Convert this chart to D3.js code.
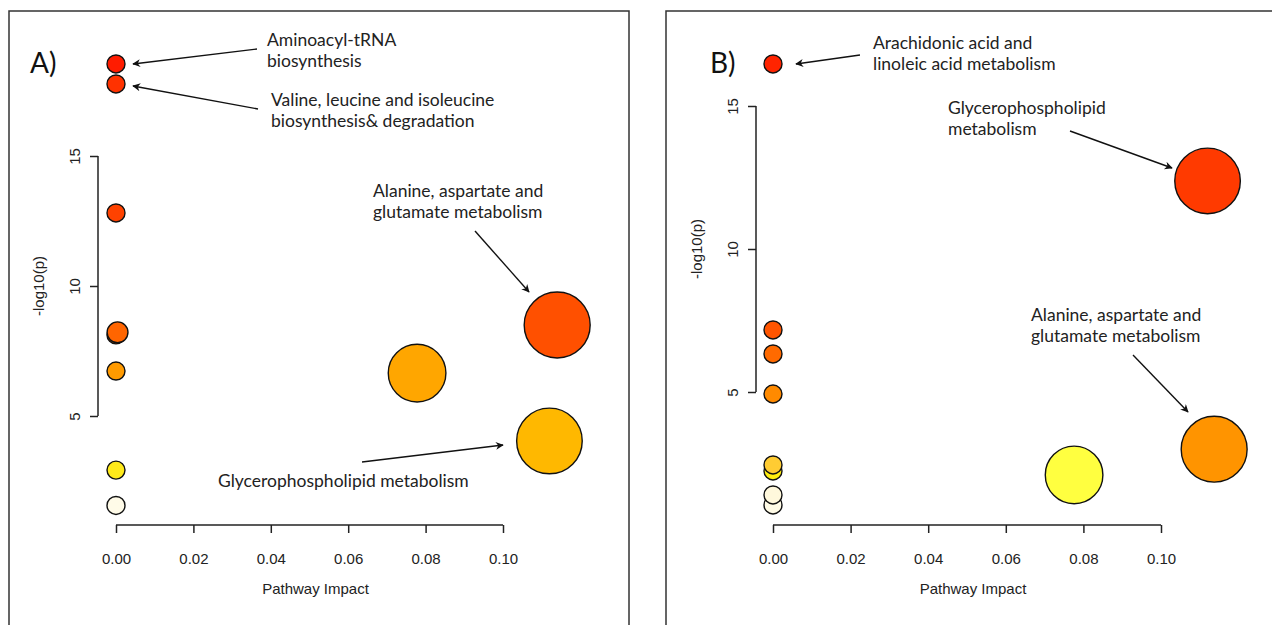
<!DOCTYPE html>
<html lang="en">
<head>
    <meta charset="UTF-8">
    <title>Pathway impact bubble charts</title>
    <script src="https://d3js.org/d3.v7.min.js"></script>
    <style>
        body { margin: 0; background: #fff; }
        svg { display: block; }
        .note { font-family: Lato, "Open Sans", sans-serif; font-size: 17.5px; fill: #222; }
        .panel-tag { font-family: Lato, "Open Sans", sans-serif; font-size: 28px; fill: #111; }
        .axis-text { font-family: "Liberation Sans", Arial, sans-serif; font-size: 15px; fill: #222; }
    </style>
</head>
<body>
<div id="chart"></div>
<script>
    const width = 1272;
    const height = 625;

    // panel A
    const impactA = [0, 0, 0, 0, 0.0004, 0, 0, 0, 0.0778, 0.114, 0.112];
    const logpA = [18.54, 17.77, 12.81, 8.12, 8.22, 6.73, 2.92, 1.56, 6.65, 8.5, 4.04];

    // panel B
    const impactB = [0, 0, 0, 0, 0, 0, 0, 0, 0.0776, 0.112, 0.1137];
    const logpB = [16.47, 7.17, 6.33, 4.93, 2.45, 2.24, 1.4, 1.05, 2.1, 12.38, 3.0];

    const xTicks = [0, 0.02, 0.04, 0.06, 0.08, 0.10];
    const yTicks = [5, 10, 15];

    const svg = d3.select("#chart").append("svg")
        .attr("width", width)
        .attr("height", height);

    svg.append("defs").append("marker")
        .attr("id", "arrow")
        .attr("viewBox", "0 0 10 10")
        .attr("refX", 9)
        .attr("refY", 5)
        .attr("markerWidth", 10)
        .attr("markerHeight", 8)
        .attr("markerUnits", "userSpaceOnUse")
        .attr("orient", "auto")
        .append("path")
        .attr("d", "M0,0 L10,5 L0,10 L3,5 Z")
        .attr("fill", "#111");

    const rScale = d3.scaleSqrt().domain([0, 0.114]).range([9, 33]);

    function drawPanel(cfg) {
        const g = svg.append("g");

        g.append("rect")
            .attr("x", cfg.frame[0])
            .attr("y", cfg.frame[1])
            .attr("width", cfg.frame[2])
            .attr("height", cfg.frame[3])
            .attr("fill", "none")
            .attr("stroke", "#333")
            .attr("stroke-width", 1.5);

        const x = d3.scaleLinear().domain([0, 0.1]).range(cfg.xRange);
        const y = d3.scaleLinear().domain([5, 15]).range(cfg.yRange);
        const color = d3.scaleLinear().domain(cfg.colorDomain).range(cfg.colorRange).clamp(true);

        // x axis
        const xAxis = g.append("g")
            .attr("transform", `translate(0,${cfg.axisY})`)
            .call(d3.axisBottom(x).tickValues(xTicks).tickFormat(d3.format(".2f")).tickSize(8).tickPadding(20));
        xAxis.select(".domain").remove();
        xAxis.append("line")
            .attr("x1", x(0)).attr("x2", x(0.1))
            .attr("stroke", "#222").attr("stroke-width", 1.5);
        xAxis.selectAll(".tick line").attr("stroke", "#222").attr("stroke-width", 1.5);
        xAxis.selectAll(".tick text").attr("class", "axis-text").attr("fill", null);

        // y axis, line only from first to last tick like base R
        const yAxis = g.append("g")
            .attr("transform", `translate(${cfg.axisX},0)`)
            .call(d3.axisLeft(y).tickValues(yTicks).tickSize(8).tickFormat(d3.format("d")));
        yAxis.select(".domain").remove();
        yAxis.append("line")
            .attr("y1", y(5)).attr("y2", y(15))
            .attr("stroke", "#222").attr("stroke-width", 1.5);
        yAxis.selectAll(".tick line").attr("stroke", "#222").attr("stroke-width", 1.5);
        yAxis.selectAll(".tick text")
            .attr("class", "axis-text")
            .attr("fill", null)
            .attr("x", 0).attr("dy", null)
            .attr("text-anchor", "middle")
            .attr("transform", "translate(-24,0) rotate(-90)")
            .attr("dominant-baseline", "central");

        g.append("text")
            .attr("class", "axis-text")
            .attr("x", (cfg.xRange[0] + cfg.xRange[1]) / 2 + 6)
            .attr("y", cfg.axisY + 69)
            .attr("text-anchor", "middle")
            .text("Pathway Impact");

        g.append("text")
            .attr("class", "axis-text")
            .attr("transform", `translate(${cfg.axisX - 54},${y(10)}) rotate(-90)`)
            .attr("text-anchor", "middle")
            .text("-log10(p)");

        const pts = cfg.impact.map((d, i) => ({ impact: d, logp: cfg.logp[i] }));
        pts.sort((a, b) => a.impact - b.impact || a.logp - b.logp);

        g.selectAll("circle.pt")
            .data(pts)
            .join("circle")
            .attr("class", "pt")
            .attr("cx", d => x(d.impact))
            .attr("cy", d => y(d.logp))
            .attr("r", d => rScale(d.impact))
            .attr("fill", d => color(d.logp))
            .attr("stroke", "#111")
            .attr("stroke-width", 1.4);

        g.append("text")
            .attr("class", "panel-tag")
            .attr("x", cfg.tag[1])
            .attr("y", cfg.tag[2])
            .text(cfg.tag[0]);

        cfg.notes.forEach(n => {
            const t = g.append("text")
                .attr("class", "note")
                .attr("x", n.tx)
                .attr("y", n.ty);
            n.lines.forEach((line, i) => {
                t.append("tspan").attr("x", n.tx).attr("dy", i === 0 ? 0 : 21).text(line);
            });
            g.append("line")
                .attr("x1", n.arrow[0]).attr("y1", n.arrow[1])
                .attr("x2", n.arrow[2]).attr("y2", n.arrow[3])
                .attr("stroke", "#111")
                .attr("stroke-width", 1.4)
                .attr("marker-end", "url(#arrow)");
        });
    }

    drawPanel({
        frame: [9, 11, 620, 640],
        xRange: [116, 503],
        yRange: [416, 156],
        axisY: 525,
        axisX: 98,
        impact: impactA,
        logp: logpA,
        colorDomain: [1.56, 2.92, 4.04, 6.65, 6.73, 8.12, 8.5, 12.81, 17.77, 18.54],
        colorRange: ["#fffbe8", "#ffea1a", "#ffb800", "#ffa600", "#ff9a00", "#ff6c00", "#ff5000", "#ff4200", "#ff3200", "#ff1c00"],
        tag: ["A)", 30, 73],
        notes: [
            { lines: ["Aminoacyl-tRNA", "biosynthesis"], tx: 267, ty: 46, arrow: [257, 49, 133, 64] },
            { lines: ["Valine, leucine and isoleucine", "biosynthesis& degradation"], tx: 271, ty: 106, arrow: [258, 109, 133, 86] },
            { lines: ["Alanine, aspartate and", "glutamate metabolism"], tx: 373, ty: 197, arrow: [475, 231, 529, 292] },
            { lines: ["Glycerophospholipid metabolism"], tx: 218, ty: 487, arrow: [362, 462, 503, 445] }
        ]
    });

    drawPanel({
        frame: [666, 11, 640, 640],
        xRange: [773, 1161],
        yRange: [392, 106],
        axisY: 525,
        axisX: 756,
        impact: impactB,
        logp: logpB,
        colorDomain: [1.05, 1.4, 2.1, 2.24, 2.45, 3.0, 4.93, 6.33, 7.17, 12.38, 16.47],
        colorRange: ["#fffbe6", "#fff8dc", "#ffff40", "#ffee10", "#ffcc33", "#ff9400", "#ff8a00", "#ff6a00", "#ff5500", "#ff3a00", "#ff2400"],
        tag: ["B)", 710, 73],
        notes: [
            { lines: ["Arachidonic acid and", "linoleic acid metabolism"], tx: 873, ty: 49, arrow: [860, 55, 796, 64] },
            { lines: ["Glycerophospholipid", "metabolism"], tx: 948, ty: 114, arrow: [1070, 131, 1172, 168] },
            { lines: ["Alanine, aspartate and", "glutamate metabolism"], tx: 1031, ty: 321, arrow: [1133, 355, 1188, 412] }
        ]
    });
</script>
</body>
</html>
